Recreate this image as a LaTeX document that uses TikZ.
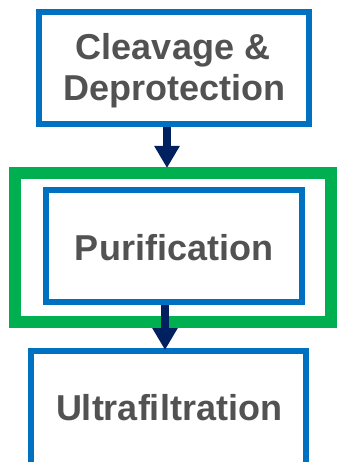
\documentclass[tikz,border=0pt]{standalone}
\usepackage{fontspec}
\setmainfont{Liberation Sans}
\usetikzlibrary{arrows.meta}
\definecolor{boxblue}{HTML}{0070C0}
\definecolor{boxgreen}{HTML}{00B050}
\definecolor{navy}{HTML}{002060}
\definecolor{txtgray}{HTML}{525252}
\tikzset{
  stepbox/.style={draw=boxblue, line width=6pt, fill=white, inner sep=0pt},
  steptext/.style={text=txtgray, align=center, inner sep=0pt,
    font=\fontsize{36}{41}\selectfont\bfseries},
  groupbox/.style={draw=boxgreen, line width=12pt, inner sep=0pt},
  arr/.style={draw=navy, line width=8pt, -{Triangle[width=24pt,length=22pt]}}
}
\begin{document}
\begin{tikzpicture}[x=1pt,y=-1pt]
\useasboundingbox (0,0) rectangle (337,462);
\clip (0,0) rectangle (337,462);
\node[groupbox, minimum width=316.5pt, minimum height=149pt] (grp) at (172.75,247.5) {};
\node[stepbox, minimum width=270pt, minimum height=112pt] (cleave) at (174,68) {};
\node[steptext, anchor=base] (cleavetxt) at (173,60) {Cleavage \&};
\node[steptext, anchor=base] (deprotxt) at (174.5,101) {Deprotection};
\node[stepbox, minimum width=256pt, minimum height=112pt] (purif) at (174,246) {};
\node[steptext, anchor=base] (puriftxt) at (174,260) {Purification};
\node[stepbox, minimum width=275pt, minimum height=124pt] (ultra) at (168.5,413) {};
\node[steptext, anchor=base] (ultratxt) at (169,420) {Ultrafiltration};
\draw[arr] ([xshift=-7pt]cleave.south) -- ([xshift=-5.75pt,yshift=-1pt]grp.north);
\draw[arr] ([xshift=-9pt]purif.south) -- ([xshift=-3.5pt,yshift=-2pt]ultra.north);
\end{tikzpicture}
\end{document}
